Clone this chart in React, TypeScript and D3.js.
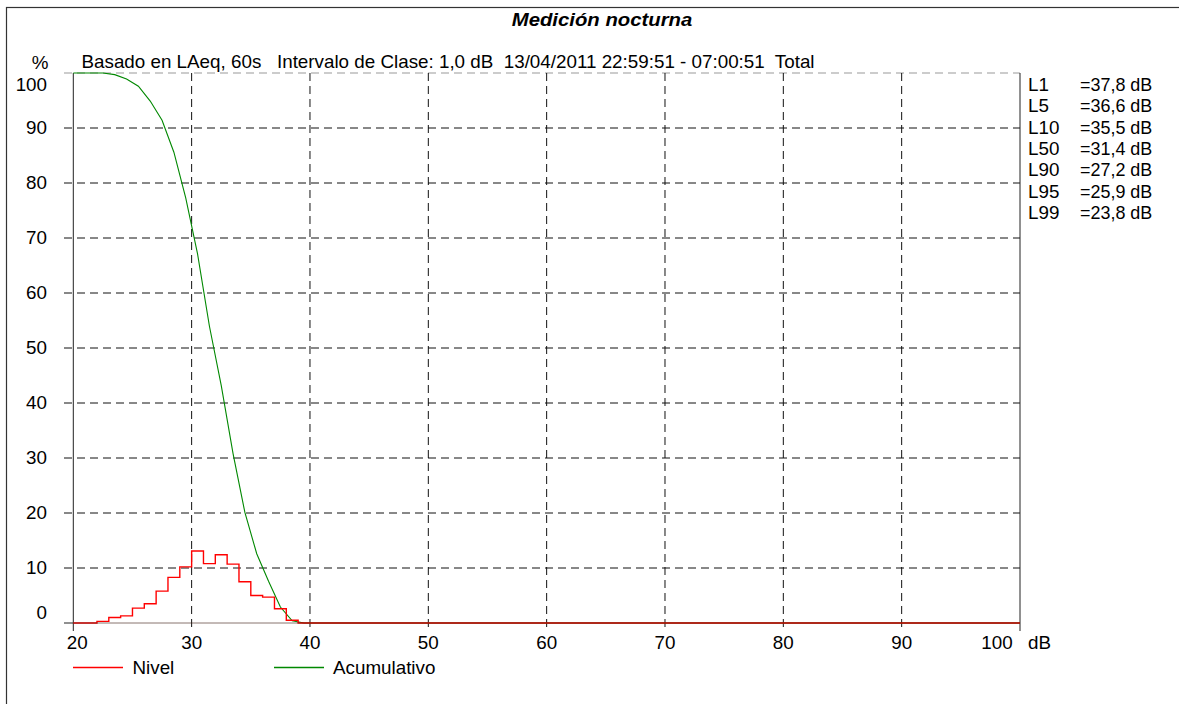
import React from "react";
import * as d3 from "d3";

// ---- data ----
const nivelStart: number[] = [20, 21, 22, 23, 24, 25, 26, 27, 28, 29, 30, 31, 32, 33, 34, 35, 36, 37, 38, 39];
const nivelPct: number[] = [0, 0, 0.3, 1.0, 1.3, 2.7, 3.5, 5.8, 8.3, 10.2, 13.1, 10.8, 12.4, 10.7, 7.5, 5.0, 4.7, 2.6, 0.5, 0];

const cumX: number[] = [20, 20.5, 21.5, 22.5, 23.5, 24.5, 25.5, 26.5, 27.5, 28.5, 29.5, 30.5, 31.5, 32.5, 33.5, 34.5, 35.5, 36.5, 37.5, 38.5, 39.5, 100];
const cumPct: number[] = [100, 100, 100, 100, 99.7, 98.9, 97.6, 94.9, 91.4, 85.6, 77.3, 67.1, 54.0, 43.2, 30.8, 20.1, 12.6, 7.6, 2.9, 0.4, 0, 0];

const xTicks: number[] = [20, 30, 40, 50, 60, 70, 80, 90, 100];
const yTicks: number[] = [0, 10, 20, 30, 40, 50, 60, 70, 80, 90, 100];

const statLabels: string[] = ["L1", "L5", "L10", "L50", "L90", "L95", "L99"];
const statValues: string[] = ["=37,8 dB", "=36,6 dB", "=35,5 dB", "=31,4 dB", "=27,2 dB", "=25,9 dB", "=23,8 dB"];

const title = "Medición nocturna";
const subtitle = "Basado en LAeq, 60s   Intervalo de Clase: 1,0 dB  13/04/2011 22:59:51 - 07:00:51  Total";
const legendNames: string[] = ["Nivel", "Acumulativo"];

const SX = 1.075;

function T(props: { x: number; y: number; anchor?: string; size?: number; bold?: boolean; italic?: boolean; sx?: number; children: React.ReactNode }) {
  const { x, y, anchor = "start", size = 17.5, bold, italic, sx = SX, children } = props;
  return (
    <text transform={`translate(${x},${y}) scale(${sx},1)`} textAnchor={anchor} fontSize={size}
      fontWeight={bold ? "bold" : "normal"} fontStyle={italic ? "italic" : "normal"} fill="#000"
      style={{ whiteSpace: "pre" }}>{children}</text>
  );
}

export default function App() {
  const W = 1179, H = 704;
  const left = 73.3, right = 1020, top = 73, bottom = 623;
  const x = d3.scaleLinear().domain([20, 100]).range([left, right]);
  const y = d3.scaleLinear().domain([0, 100]).range([bottom, top]);

  const nivelPts: [number, number][] = nivelStart.map((s, i) => [s, nivelPct[i]]);
  nivelPts.push([100, 0]);
  const stepLine = d3.line<[number, number]>().x(d => x(d[0])).y(d => y(d[1])).curve(d3.curveStepAfter);
  const cumLine = d3.line<number>().x((_, i) => x(cumX[i])).y(d => y(d));

  const font = "'Liberation Sans', Arial, sans-serif";

  return (
    <svg width={W} height={H} style={{ position: "absolute", left: 0, top: 0, background: "#fff" }} fontFamily={font}>
      <rect x={0} y={0} width={W} height={H} fill="#fff" />
      <rect x={6.5} y={7.5} width={W + 20} height={H + 20} fill="none" stroke="#333" strokeWidth={1.2} />
      <T x={602} y={26} anchor="middle" size={19} bold italic sx={1.07}>{title}</T>
      <T x={81.5} y={67.5}>{subtitle}</T>
      <T x={40} y={69} anchor="middle">%</T>

      {/* horizontal grid */}
      {yTicks.filter(t => t > 0).map(t => (
        <line key={"hg" + t} x1={64} x2={right} y1={y(t)} y2={y(t)}
          stroke={t === 100 ? "#999" : "#111"} strokeDasharray="8,5" strokeWidth={1} />
      ))}
      {/* vertical grid */}
      {xTicks.filter(t => t > 20 && t < 100).map(t => (
        <line key={"vg" + t} x1={x(t)} x2={x(t)} y1={top} y2={bottom + 8}
          stroke="#111" strokeDasharray="8,5" strokeWidth={1} />
      ))}
      {/* axes */}
      <line x1={left} x2={left} y1={top} y2={bottom + 8} stroke="#222" strokeWidth={1} />
      <line x1={right} x2={right} y1={top} y2={bottom + 8} stroke="#222" strokeWidth={1} />
      <line x1={64} x2={left} y1={bottom} y2={bottom} stroke="#222" strokeWidth={1} />

      {/* y labels */}
      {yTicks.map(t => {
        const off = t === 100 ? 12 : t === 0 ? -10 : 0;
        return <T key={"yl" + t} x={47} y={y(t) + off + 6} anchor="end">{t}</T>;
      })}
      {/* x labels */}
      {xTicks.map(t => {
        const off = t === 20 ? 4 : t === 100 ? -23 : 0;
        return <T key={"xl" + t} x={x(t) + off} y={649} anchor="middle">{t}</T>;
      })}
      <T x={1028} y={649}>dB</T>

      {/* series */}
      <path d={cumLine(cumPct) || ""} fill="none" stroke="#008800" strokeWidth={1.1} />
      <path d={stepLine(nivelPts) || ""} fill="none" stroke="#ff0000" strokeWidth={1.4} />
      <line x1={left} x2={right} y1={bottom} y2={bottom} stroke="#3a1a10" strokeWidth={1} opacity={0.6} />

      {/* stats */}
      {statLabels.map((l, i) => (
        <g key={l}>
          <T x={1028} y={91 + i * 21.3}>{l}</T>
          <T x={1080} y={91 + i * 21.3} sx={1.025}>{statValues[i]}</T>
        </g>
      ))}

      {/* legend */}
      <line x1={73} x2={123} y1={667.5} y2={667.5} stroke="#ff0000" strokeWidth={1.3} />
      <T x={132.5} y={673.5}>{legendNames[0]}</T>
      <line x1={274} x2={324} y1={667.5} y2={667.5} stroke="#008800" strokeWidth={1.3} />
      <T x={333} y={673.5}>{legendNames[1]}</T>
    </svg>
  );
}
